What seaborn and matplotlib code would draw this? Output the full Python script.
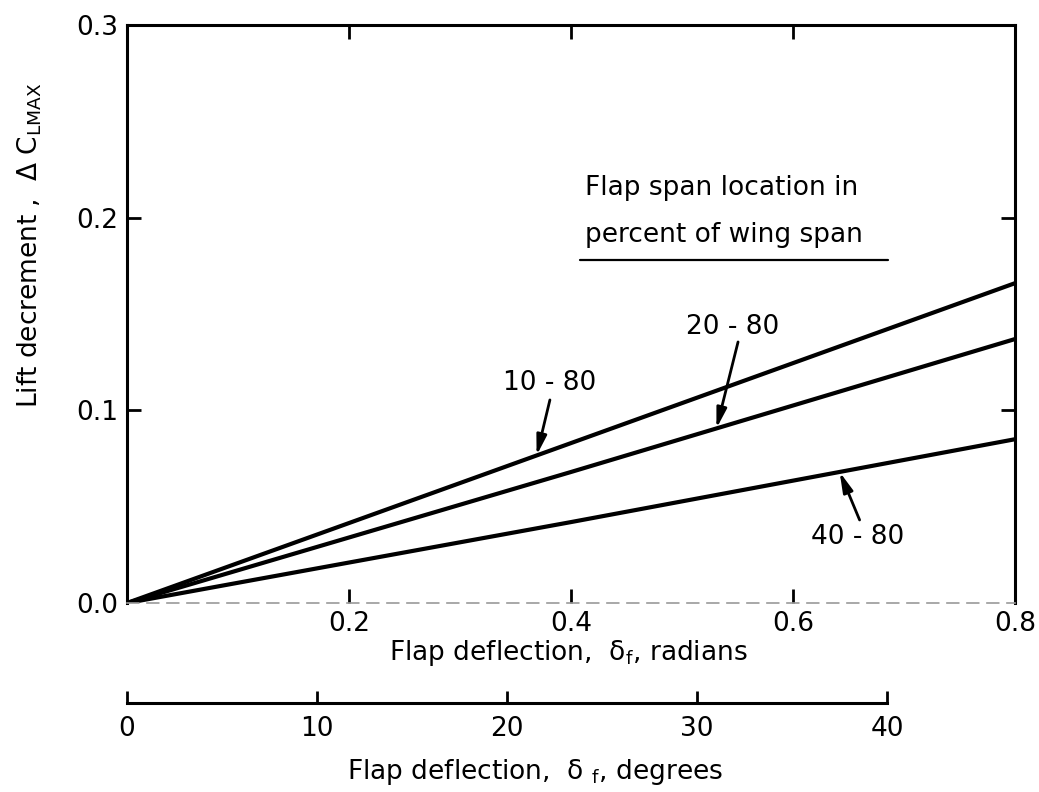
import numpy as np
import pandas as pd
import matplotlib
matplotlib.use("Agg")
import matplotlib.pyplot as plt
from matplotlib.lines import Line2D
import seaborn as sns

# Flap deflection (radians) and lift decrement for each flap span location
deflection_rad = [0.0, 0.4, 0.8]
span_labels = ["10 - 80", "20 - 80", "40 - 80"]
decrement_10_80 = [0.0, 0.083, 0.166]
decrement_20_80 = [0.0, 0.068, 0.137]
decrement_40_80 = [0.0, 0.042, 0.085]

rad_ticks = [0.2, 0.4, 0.6, 0.8]
rad_tick_labels = ["0.2", "0.4", "0.6", "0.8"]
y_ticks = [0.0, 0.1, 0.2, 0.3]
y_tick_labels = ["0.0", "0.1", "0.2", "0.3"]
deg_ticks = [0, 10, 20, 30, 40]
deg_tick_labels = ["0", "10", "20", "30", "40"]

df = pd.DataFrame({
    "deflection": deflection_rad * 3,
    "decrement": decrement_10_80 + decrement_20_80 + decrement_40_80,
    "span": [s for s in span_labels for _ in deflection_rad],
})

sns.set_theme(style="white")
plt.rcParams["font.family"] = ["DejaVu Sans"]
plt.rcParams["mathtext.fontset"] = "dejavusans"
plt.rcParams["text.color"] = "black"
plt.rcParams["xtick.color"] = "black"
plt.rcParams["ytick.color"] = "black"
plt.rcParams["xtick.labelcolor"] = "black"
plt.rcParams["ytick.labelcolor"] = "black"
FS = 19

W, H = 1039, 792
fig = plt.figure(figsize=(W / 100, H / 100), dpi=100)
fig.patch.set_facecolor("white")

ax = fig.add_axes([127 / W, (H - 603) / H, 888 / W, 578 / H])
sns.lineplot(data=df, x="deflection", y="decrement", units="span",
             estimator=None, color="black", linewidth=3.0, ax=ax,
             legend=False)
ax.set_xlim(0, 0.8)
ax.set_ylim(0, 0.3)
ax.set_xlabel("")
ax.set_ylabel("")

for side in ["left", "top", "right"]:
    ax.spines[side].set_color("black")
    ax.spines[side].set_linewidth(2.2)
ax.spines["bottom"].set_color("#9a9a9a")
ax.spines["bottom"].set_linewidth(1.2)
ax.spines["bottom"].set_linestyle((0, (7, 5)))

ax.set_xticks(rad_ticks)
ax.set_xticklabels(rad_tick_labels, fontsize=FS)
ax.set_yticks(y_ticks)
ax.set_yticklabels(y_tick_labels, fontsize=FS)
ax.tick_params(axis="both", direction="in", length=10, width=2,
               color="black", top=True, right=True, bottom=True, left=True)
ax.tick_params(axis="x", pad=6)
ax.tick_params(axis="y", pad=6)
# hide the tick marks that fall on the corners
for t in ax.xaxis.get_major_ticks():
    if np.isclose(t.get_loc(), 0.8):
        t.tick1line.set_visible(False)
        t.tick2line.set_visible(False)
for t in ax.yaxis.get_major_ticks():
    if np.isclose(t.get_loc(), 0.0) or np.isclose(t.get_loc(), 0.3):
        t.tick1line.set_visible(False)
        t.tick2line.set_visible(False)

# Curve labels with arrows pointing to each line
series = {"10 - 80": decrement_10_80, "20 - 80": decrement_20_80,
          "40 - 80": decrement_40_80}
label_spec = {
    # name: (arrow tip x, arrow tail (x, y), text centre (x, y))
    "10 - 80": (0.369, (0.381, 0.1054), (0.381, 0.1142)),
    "20 - 80": (0.531, (0.5505, 0.1355), (0.546, 0.1432)),
    "40 - 80": (0.642, (0.660, 0.0431), (0.6586, 0.0343)),
}
for name, (tx, tail, tpos) in label_spec.items():
    ty = np.interp(tx, deflection_rad, series[name])
    ax.annotate("", xy=(tx, ty), xytext=tail,
                arrowprops=dict(arrowstyle="-|>,head_length=1.0,head_width=0.25",
                                color="black", lw=2.0, shrinkA=0, shrinkB=0))
    ax.text(tpos[0], tpos[1], name, fontsize=FS, ha="center", va="center")

# Legend heading with underline
ax.text(0.4126, 0.2118, "Flap span location in", fontsize=FS,
        ha="left", va="baseline")
ax.text(0.4126, 0.1874, "percent of wing span", fontsize=FS,
        ha="left", va="baseline")
ax.add_line(Line2D([0.4081, 0.6856], [0.178, 0.178], color="black",
                   linewidth=1.6))

# Axis titles
fig.text(30 / W, 1 - 245 / H,
         r"Lift decrement ,  Δ C$_{\mathregular{LMAX}}$",
         rotation=90, fontsize=FS, ha="center", va="center")
fig.text(568 / W, 1 - 653 / H,
         r"Flap deflection,  δ$_\mathregular{f}$, radians",
         fontsize=FS, ha="center", va="center")

# Secondary scale in degrees
ax2 = fig.add_axes([127 / W, (H - 703) / H, 760 / W, 0.0001])
ax2.set_xlim(0, 40)
ax2.set_yticks([])
for side in ["left", "top", "right"]:
    ax2.spines[side].set_visible(False)
ax2.spines["bottom"].set_color("black")
ax2.spines["bottom"].set_linewidth(2.2)
ax2.patch.set_alpha(0)
ax2.set_xticks(deg_ticks)
ax2.set_xticklabels(deg_tick_labels, fontsize=FS)
ax2.tick_params(axis="x", direction="in", length=9, width=2,
                color="black", pad=9, bottom=True)
fig.text(535 / W, 1 - 772 / H,
         r"Flap deflection,  δ $_\mathregular{f}$, degrees",
         fontsize=FS, ha="center", va="center")

fig.savefig("out.png", dpi=100, facecolor="white")
